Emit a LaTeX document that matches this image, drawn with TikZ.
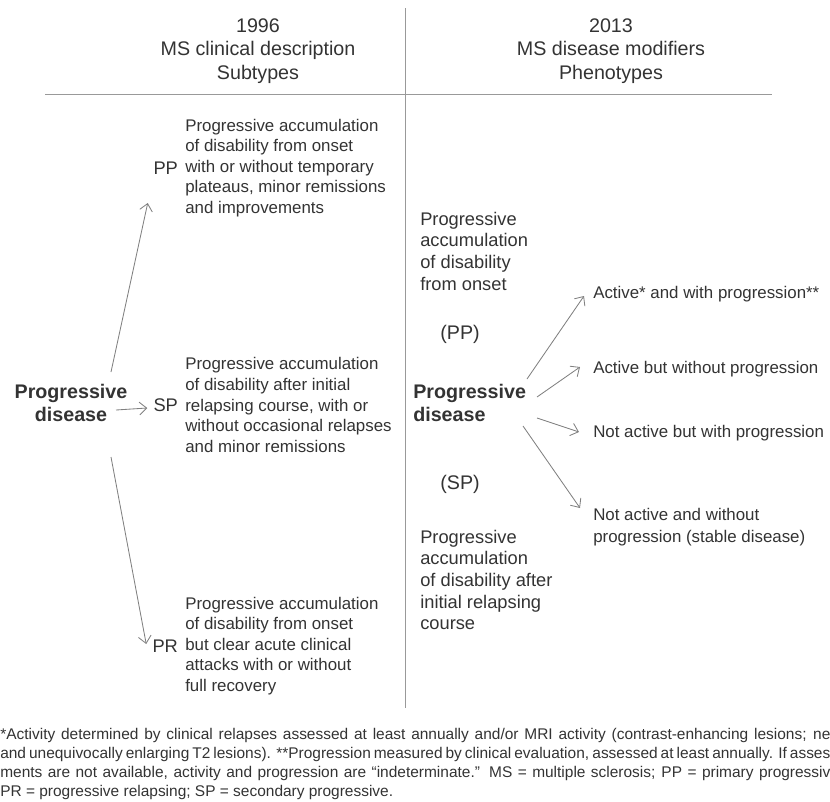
\documentclass[tikz,border=0pt]{standalone}
\usepackage{fontspec}
\setmainfont{Liberation Sans}
\usetikzlibrary{arrows.meta}
\usetikzlibrary{positioning}

\definecolor{inkgray}{gray}{0.2}
\definecolor{rulegray}{gray}{0.6}
\definecolor{arrowgray}{gray}{0.5}

\tikzset{
  yearhead/.style={align=center, inner sep=0, font=\fontsize{14}{16.7}\selectfont},
  bigbold/.style={inner sep=0, font=\fontsize{14}{16.4}\selectfont\bfseries},
  tag/.style={inner sep=0, font=\fontsize{13}{15}\selectfont},
  desc/.style={anchor=west, align=left, inner sep=0, font=\fontsize{12}{14.6}\selectfont},
  pheno/.style={anchor=west, align=left, inner sep=0, font=\fontsize{13}{15.4}\selectfont},
  opt/.style={anchor=west, align=left, inner sep=0, font=\fontsize{12}{15.6}\selectfont},
  note/.style={anchor=west, inner sep=0, font=\fontsize{11}{13}\selectfont},
  arr/.style={draw=arrowgray, line width=0.6pt, -{Straight Barb[length=1.8mm,width=3.2mm]}},
}

\begin{document}
\begin{tikzpicture}[x=0.025cm, y=-0.025cm, text=inkgray]
\useasboundingbox (0,0) rectangle (830,802);

% headings and rules
\node[yearhead] (old) at (258,51) {1996\\MS clinical description\\Subtypes};
\node[yearhead] (new) at (611,51) {2013\\MS disease modifiers\\Phenotypes};
\draw[rulegray, line width=0.7pt] (405,8) -- (405,708);
\draw[rulegray, line width=0.7pt] (45,94) -- (772,94);

% 1996 subtypes
\node[bigbold, align=center] (lprog) at (71,403) {Progressive\\disease};
\node[desc] (ppdesc) at (185,168) {Progressive accumulation\\of disability from onset\\with or without temporary\\plateaus, minor remissions\\and improvements};
\node[tag, left=0.17cm of ppdesc] (pp) {PP};
\node[desc] (spdesc) at (185,405) {Progressive accumulation\\of disability after initial\\relapsing course, with or\\without occasional relapses\\and minor remissions};
\node[tag, left=0.17cm of spdesc] (sp) {SP};
\node[desc] (prdesc) at (185,646) {Progressive accumulation\\of disability from onset\\but clear acute clinical\\attacks with or without\\full recovery};
\node[tag, left=0.17cm of prdesc] (pr) {PR};

\draw[arr] ([shift={(40,-31)}]lprog.center) -- ([shift={(-18,35)}]pp.center);
\draw[arr] ([shift={(45,7)}]lprog.center) -- ([shift={(-6,3)}]sp.west);
\draw[arr] ([shift={(40,54)}]lprog.center) -- ([shift={(-19,-2)}]pr.center);

% 2013 phenotypes
\node[pheno] (ppnew) at (420,251) {Progressive\\accumulation\\of disability\\from onset};
\node[tag, font=\fontsize{14}{16}\selectfont] (pplabel) at (460,334) {(PP)};
\node[bigbold, anchor=west, align=left] (rprog) at (413,403) {Progressive\\disease};
\node[tag, font=\fontsize{14}{16}\selectfont] (splabel) at (460,484) {(SP)};
\node[pheno] (spnew) at (420,580) {Progressive\\accumulation\\of disability after\\initial relapsing\\course};

\node[opt] (actprog) at (593,294) {Active* and with progression**};
\node[opt] (actonly) at (593,369) {Active but without progression};
\node[opt] (progonly) at (593,433) {Not active but with progression};
\node[opt] (stable) at (593,527) {Not active and without\\progression (stable disease)};

\draw[arr] ([shift={(114,-24)}]rprog.west) -- ([shift={(-9,2)}]actprog.west);
\draw[arr] ([shift={(124,-6)}]rprog.west) -- ([shift={(-13,-2)}]actonly.west);
\draw[arr] ([shift={(124,15)}]rprog.west) -- ([shift={(-14,-1)}]progonly.west);
\draw[arr] ([shift={(110,23)}]rprog.west) -- ([shift={(-13,-19)}]stable.west);

% footnote
\node[note] (fn1) at (0,735) {\makebox[20.75cm][s]{*Activity determined by clinical relapses assessed at least annually and/or MRI activity (contrast-enhancing lesions; ne}};
\node[note] (fn2) at (0,754) {\makebox[20.75cm][s]{and unequivocally enlarging T2 lesions). **Progression measured by clinical evaluation, assessed at least annually. If asses}};
\node[note] (fn3) at (0,773) {\makebox[20.75cm][s]{ments are not available, activity and progression are “indeterminate.” MS = multiple sclerosis; PP = primary progressiv}};
\node[note] (fn4) at (0,792) {PR = progressive relapsing; SP = secondary progressive.};

\end{tikzpicture}
\end{document}
